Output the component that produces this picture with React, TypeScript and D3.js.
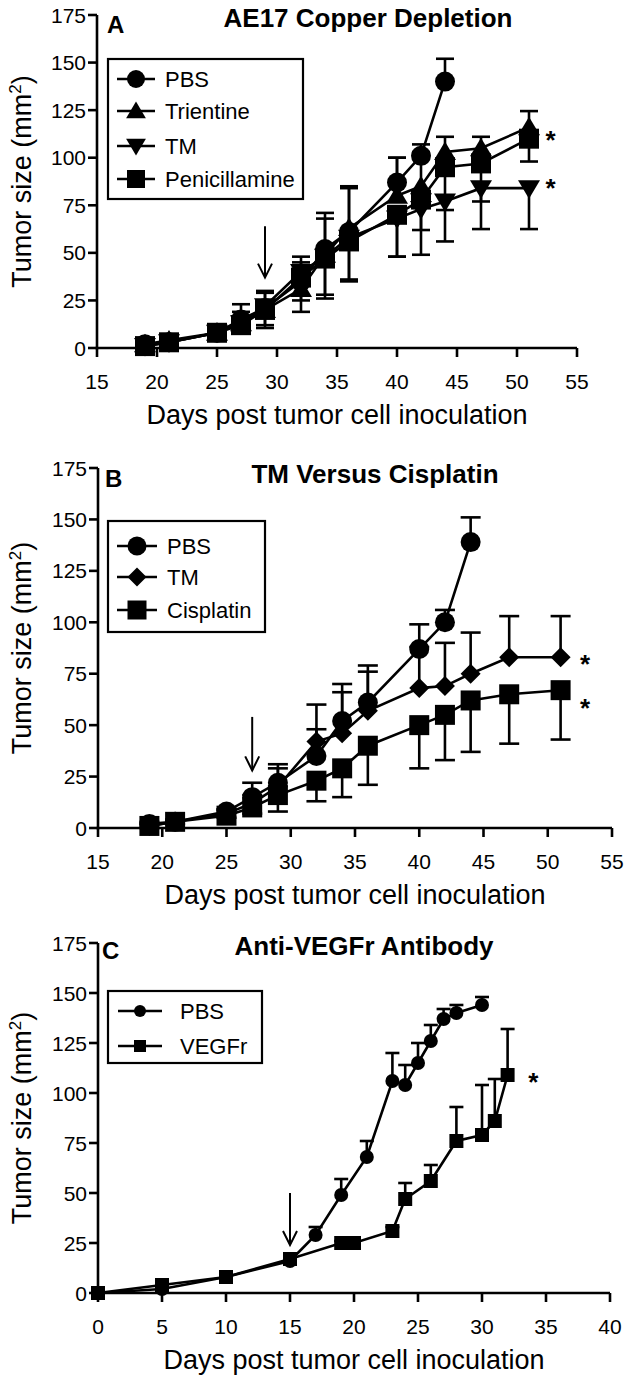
import React from 'react';
import * as d3 from 'd3';

const FONT = '"Liberation Sans", Arial, Helvetica, sans-serif';

// ---------- Data ----------
const yTicks = [0, 25, 50, 75, 100, 125, 150, 175];
const xTicksAB = [15, 20, 25, 30, 35, 40, 45, 50, 55];
const xTicksC = [0, 5, 10, 15, 20, 25, 30, 35, 40];

// Panel A: AE17 Copper Depletion
const daysA = [19, 21, 25, 27, 29, 32, 34, 36, 40, 42, 44, 47, 51];
const pbsA = [2, 3, 8, 15, 21, 35, 52, 61, 87, 101, 140];
const pbsAErr = [1, 1, 1, 8, 9, 13, 19, 23, 13, 6, 12];
const trientineA = [2, 4, 8, 13, 20, 31, 49, 63, 80, 85, 103, 105, 116];
const trientineAErr = [1, 2, 2, 6, 9, 14, 19, 22, 20, 18, 8, 6, 8.5];
const tmA = [1, 3, 8, 13, 22, 40, 48, 58, 68, 73, 77, 84, 84];
const tmAErr = [1, 2, 2, 4, 10, 15, 20, 22, 20, 24, 21, 21.5, 21.5];
const penA = [1, 3, 8, 12, 20, 37, 47, 56, 70, 78, 95, 97, 110];
const penAErr = [1, 2, 2, 4, 9.5, 18, 21, 21, 22, 16, 22.5, 20, 12];
const arrowA = [29, 64, 37]; // day, from value, to value
const starsA = [[52.8, 112], [52.8, 86.5]];

// Panel B: TM Versus Cisplatin
const daysB = [19, 21, 25, 27, 29, 32, 34, 36, 40, 42, 44, 47, 51];
const pbsB = [2, 3, 8, 15, 22, 35, 52, 61, 87, 100, 139];
const pbsBErr = [1, 1, 1, 7, 9, 13, 18, 18, 12, 6, 12];
const tmB = [1, 3, 7, 12, 20, 42, 46, 57, 68, 69, 75, 83, 83];
const tmBErr = [1, 1, 2, 4, 9, 18, 20, 19, 20, 21, 20, 20, 20];
const cisB = [1, 3, 6, 10, 16, 23, 29, 40, 50, 55, 62, 65, 67];
const cisBErr = [1, 1, 1, 3, 8, 10, 14, 19, 21, 22, 25, 24, 24];
const arrowB = [27, 54, 28];
const starsB = [[52.9, 82], [52.9, 61]];

// Panel C: Anti-VEGFr Antibody
const daysCPbs = [0, 5, 10, 15, 17, 19, 21, 23, 24, 25, 26, 27, 28, 30];
const pbsC = [0, 2, 8, 16, 29, 49, 68, 106, 104, 115, 126, 137, 140, 144];
const pbsCErr = [0, 1, 1, 1, 4, 8, 8, 14, 10, 10, 8, 5, 4, 4];
const daysCVeg = [0, 5, 10, 15, 19, 20, 23, 24, 26, 28, 30, 31, 32];
const vegC = [0, 4, 8, 17, 25, 25, 31, 47, 56, 76, 79, 86, 109];
const vegCErr = [0, 1, 1, 1, 1, 1, 2, 8, 8, 17, 25, 21, 23];
const arrowC = [15, 50, 24];
const starsC = [[34, 108]];

type Shape = 'circle' | 'square' | 'triUp' | 'triDown' | 'diamond';

interface Series {
  name: string;
  days: number[];
  values: number[];
  errors: number[];
  dir: number;
  shape: Shape;
}

function shapePath(shape: Shape, s: number): string {
  const h = s / 2;
  switch (shape) {
    case 'circle':
      return `M${-h},0A${h},${h} 0 1,0 ${h},0A${h},${h} 0 1,0 ${-h},0Z`;
    case 'square':
      return `M${-h},${-h}H${h}V${h}H${-h}Z`;
    case 'triUp':
      return `M0,${-h * 1.05}L${h * 1.1},${h * 0.8}L${-h * 1.1},${h * 0.8}Z`;
    case 'triDown':
      return `M0,${h * 1.05}L${h * 1.1},${-h * 0.8}L${-h * 1.1},${-h * 0.8}Z`;
    case 'diamond':
      return `M0,${-h}L${h},0L0,${h}L${-h},0Z`;
  }
}

interface PanelCfg {
  letter: string;
  title: string;
  titleX: number;
  titleY: number;
  letterX: number;
  letterY: number;
  xDomain: [number, number];
  xRange: [number, number];
  yRange: [number, number];
  xTicks: number[];
  series: Series[];
  markerSize: number;
  capW: number;
  legend: { x: number; y: number; w: number; h: number; rows: number[]; lineX: [number, number]; textX: number; sym: number };
  arrow: number[];
  stars: number[][];
}

const panels: PanelCfg[] = [
  {
    letter: 'A',
    title: 'AE17 Copper Depletion',
    titleX: 368,
    titleY: 27,
    letterX: 107,
    letterY: 33,
    xDomain: [15, 55],
    xRange: [97, 577],
    yRange: [348, 15],
    xTicks: xTicksAB,
    series: [
      { name: 'PBS', days: daysA, values: pbsA, errors: pbsAErr, dir: 1, shape: 'circle' },
      { name: 'Trientine', days: daysA, values: trientineA, errors: trientineAErr, dir: 1, shape: 'triUp' },
      { name: 'TM', days: daysA, values: tmA, errors: tmAErr, dir: -1, shape: 'triDown' },
      { name: 'Penicillamine', days: daysA, values: penA, errors: penAErr, dir: -1, shape: 'square' },
    ],
    markerSize: 20,
    capW: 18,
    legend: { x: 108, y: 59, w: 195, h: 140, rows: [79, 111, 146, 179], lineX: [117, 155], textX: 165, sym: 18 },
    arrow: arrowA,
    stars: starsA,
  },
  {
    letter: 'B',
    title: 'TM Versus Cisplatin',
    titleX: 375,
    titleY: 483,
    letterX: 105,
    letterY: 487,
    xDomain: [15, 55],
    xRange: [98, 612],
    yRange: [828, 468],
    xTicks: xTicksAB,
    series: [
      { name: 'PBS', days: daysB, values: pbsB, errors: pbsBErr, dir: 1, shape: 'circle' },
      { name: 'TM', days: daysB, values: tmB, errors: tmBErr, dir: 1, shape: 'diamond' },
      { name: 'Cisplatin', days: daysB, values: cisB, errors: cisBErr, dir: -1, shape: 'square' },
    ],
    markerSize: 20,
    capW: 20,
    legend: { x: 108, y: 521, w: 157, h: 111, rows: [546, 577, 610], lineX: [117, 157], textX: 167, sym: 19 },
    arrow: arrowB,
    stars: starsB,
  },
  {
    letter: 'C',
    title: 'Anti-VEGFr Antibody',
    titleX: 364,
    titleY: 955,
    letterX: 102,
    letterY: 959,
    xDomain: [0, 40],
    xRange: [98, 610],
    yRange: [1293, 943],
    xTicks: xTicksC,
    series: [
      { name: 'PBS', days: daysCPbs, values: pbsC, errors: pbsCErr, dir: 1, shape: 'circle' },
      { name: 'VEGFr', days: daysCVeg, values: vegC, errors: vegCErr, dir: 1, shape: 'square' },
    ],
    markerSize: 14,
    capW: 14,
    legend: { x: 108, y: 991, w: 154, h: 72, rows: [1011, 1046], lineX: [118, 162], textX: 180, sym: 12 },
    arrow: arrowC,
    stars: starsC,
  },
];

function Panel({ cfg }: { cfg: PanelCfg }) {
  const x = d3.scaleLinear().domain(cfg.xDomain).range(cfg.xRange);
  const y = d3.scaleLinear().domain([0, 175]).range(cfg.yRange);
  const line = d3
    .line<[number, number]>()
    .x((d) => x(d[0]))
    .y((d) => y(d[1]));
  const x0 = cfg.xRange[0];
  const y0 = y(0);
  const sw = 2.6;
  const [aDay, aFrom, aTo] = cfg.arrow;
  const ax = x(aDay);
  const aTip = y(aTo);
  const lg = cfg.legend;
  return (
    <g fontFamily={FONT} fill="#000">
      {/* title and letter */}
      <text x={cfg.titleX} y={cfg.titleY} textAnchor="middle" fontSize={26} fontWeight="bold">
        {cfg.title}
      </text>
      <text x={cfg.letterX} y={cfg.letterY} fontSize={24} fontWeight="bold">
        {cfg.letter}
      </text>
      {/* axes */}
      <line x1={x0} x2={x0} y1={y(0) + sw / 2} y2={y(175)} stroke="#000" strokeWidth={sw} />
      <line x1={x0 - sw / 2} x2={cfg.xRange[1]} y1={y0} y2={y0} stroke="#000" strokeWidth={sw} />
      {yTicks.map((t) => (
        <g key={'y' + t}>
          <line x1={x0 - 9} x2={x0} y1={y(t)} y2={y(t)} stroke="#000" strokeWidth={sw} />
          <text x={x0 - 11} y={y(t)} dy="0.36em" textAnchor="end" fontSize={21}>
            {t}
          </text>
        </g>
      ))}
      {cfg.xTicks.map((t) => (
        <g key={'x' + t}>
          <line x1={x(t)} x2={x(t)} y1={y0} y2={y0 + 9} stroke="#000" strokeWidth={sw} />
          <text x={x(t)} y={y0 + 41} textAnchor="middle" fontSize={21}>
            {t}
          </text>
        </g>
      ))}
      <text
        x={(cfg.xRange[0] + cfg.xRange[1]) / 2}
        y={y0 + 76}
        textAnchor="middle"
        fontSize={27}
      >
        Days post tumor cell inoculation
      </text>
      <text
        transform={`translate(31,${(y(0) + y(175)) / 2}) rotate(-90)`}
        textAnchor="middle"
        fontSize={27}
      >
        Tumor size (mm<tspan dy={-10} fontSize={17}>2</tspan>
        <tspan dy={10}>)</tspan>
      </text>
      {/* series */}
      {cfg.series.map((s) => {
        const pts: [number, number][] = s.days.slice(0, s.values.length).map((d, i) => [d, s.values[i]]);
        return (
          <g key={s.name}>
            <path d={line(pts) || ''} fill="none" stroke="#000" strokeWidth={sw} />
            {pts.map(([d, v], i) => {
              const e = s.errors[i];
              if (!e) return null;
              const ye = y(v + s.dir * e);
              return (
                <g key={i}>
                  <line x1={x(d)} x2={x(d)} y1={y(v)} y2={ye} stroke="#000" strokeWidth={sw} />
                  <line x1={x(d) - cfg.capW / 2} x2={x(d) + cfg.capW / 2} y1={ye} y2={ye} stroke="#000" strokeWidth={sw} />
                </g>
              );
            })}
            {pts.map(([d, v], i) => (
              <path key={'m' + i} d={shapePath(s.shape, cfg.markerSize)} transform={`translate(${x(d)},${y(v)})`} fill="#000" />
            ))}
          </g>
        );
      })}
      {/* arrow */}
      <line x1={ax} x2={ax} y1={y(aFrom)} y2={aTip} stroke="#000" strokeWidth={2} />
      <polyline
        points={`${ax - 7},${aTip - 14} ${ax},${aTip} ${ax + 7},${aTip - 14}`}
        fill="none"
        stroke="#000"
        strokeWidth={2}
      />
      {/* stars */}
      {cfg.stars.map(([d, v], i) => (
        <text key={'s' + i} x={x(d)} y={y(v) + 14} textAnchor="middle" fontSize={26} fontWeight="bold">
          *
        </text>
      ))}
      {/* legend */}
      <rect x={lg.x} y={lg.y} width={lg.w} height={lg.h} fill="#fff" stroke="#000" strokeWidth={2.2} />
      {cfg.series.map((s, i) => (
        <g key={'l' + s.name}>
          <line x1={lg.lineX[0]} x2={lg.lineX[1]} y1={lg.rows[i]} y2={lg.rows[i]} stroke="#000" strokeWidth={sw} />
          <path
            d={shapePath(s.shape, lg.sym)}
            transform={`translate(${(lg.lineX[0] + lg.lineX[1]) / 2},${lg.rows[i]})`}
            fill="#000"
          />
          <text x={lg.textX} y={lg.rows[i]} dy="0.36em" fontSize={22}>
            {s.name}
          </text>
        </g>
      ))}
    </g>
  );
}

export default function App() {
  return (
    <svg
      width={630}
      height={1379}
      viewBox="0 0 630 1379"
      style={{ position: 'absolute', left: 0, top: 0, background: '#fff' }}
    >
      <rect x={0} y={0} width={630} height={1379} fill="#fff" />
      {panels.map((p) => (
        <Panel key={p.letter} cfg={p} />
      ))}
    </svg>
  );
}
